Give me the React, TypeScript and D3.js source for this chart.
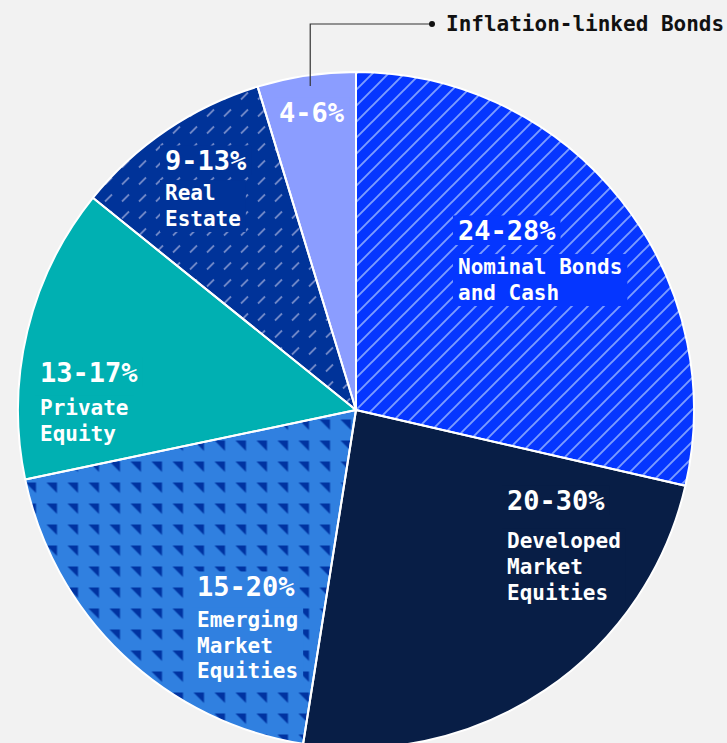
import React from "react";
import * as d3 from "d3";

// ---- data ----
const categories = [
  "Nominal Bonds and Cash",
  "Developed Market Equities",
  "Emerging Market Equities",
  "Private Equity",
  "Real Estate",
  "Inflation-linked Bonds",
];
const shares = [28.6, 23.9, 19.2, 14.1, 9.5, 4.7];
const rangeLabels = ["24-28%", "20-30%", "15-20%", "13-17%", "9-13%", "4-6%"];
const nameLines = [
  ["Nominal Bonds", "and Cash"],
  ["Developed", "Market", "Equities"],
  ["Emerging", "Market", "Equities"],
  ["Private", "Equity"],
  ["Real", "Estate"],
  [],
];
const legendLabel = "Inflation-linked Bonds";

// ---- layout / style ----
const W = 727;
const H = 743;
const CX = 356;
const CY = 410;
const R = 338;
const BG = "#f2f2f2";
const FONT = "'DejaVu Sans Mono', 'Liberation Mono', monospace";
const PCT_SIZE = 27;
const NAME_SIZE = 21;
const CHAR_W = 0.602;

const baseColors = ["#0536ff", "#081e46", "#3080e0", "#00b0b2", "#003399", "#8b9dff"];
const overlays = ["url(#hatch)", null, "url(#tri)", null, "url(#dash)", null];

// label anchor offsets from pie centre (percent baseline start), gap to first name line, line height
const labelLayout = [
  { dx: 102, dy: -170, gap: 34, lh: 26 },
  { dx: 151, dy: 100, gap: 38, lh: 26 },
  { dx: -159, dy: 186, gap: 31, lh: 25.5 },
  { dx: -316, dy: -28.5, gap: 33.5, lh: 26 },
  { dx: -191, dy: -240, gap: 30, lh: 26 },
  { dx: -77, dy: -288, gap: 0, lh: 0 },
];

export default function App() {
  const data = categories.map((c, i) => ({ name: c, value: shares[i], i }));
  const pie = d3
    .pie<any>()
    .sort(null)
    .value((d: any) => d.value)
    .startAngle(0)
    .endAngle(2 * Math.PI);
  const arcs = pie(data);
  const arc = d3.arc<any>().innerRadius(0).outerRadius(R);

  // legend leader: from inside the inflation-linked slice, up and right to the label
  const infl = arcs[5];
  const leaderAngle = infl.startAngle + (infl.endAngle - infl.startAngle) * 0.52;
  const leaderX = CX + Math.sin(leaderAngle) * (R - 14);
  const leaderBottom = CY - R + 14;
  const legendY = 24;
  const dotX = 432;

  const T = 16; // hatch tile
  return (
    <svg
      width={W}
      height={H}
      style={{ position: "absolute", left: 0, top: 0, display: "block" }}
    >
      <defs>
        <pattern id="hatch" patternUnits="userSpaceOnUse" width={T} height={T}>
          <path
            d={`M-2,${T + 2} L${T + 2},-2 M-2,2 L2,-2 M${T - 2},${T + 2} L${T + 2},${T - 2}`}
            stroke="#7c9cff"
            strokeWidth={1.9}
            fill="none"
          />
        </pattern>
        <pattern id="dash" patternUnits="userSpaceOnUse" width={17} height={17}>
          <line x1={4} y1={12.5} x2={11} y2={5.5} stroke="#6d86c6" strokeWidth={1.8} />
        </pattern>
        <pattern id="tri" patternUnits="userSpaceOnUse" x={5.5} y={9.5} width={21} height={21}>
          <polygon points="0,0 10.5,0 10.5,10.5" fill="#0033a1" />
        </pattern>
      </defs>
      <rect width={W} height={H} fill={BG} />

      <g transform={`translate(${CX},${CY})`}>
        {arcs.map((a, i) => (
          <g key={i}>
            <path d={arc(a) as string} fill={baseColors[i]} />
            {overlays[i] && <path d={arc(a) as string} fill={overlays[i] as string} />}
          </g>
        ))}
        {arcs.map((a, i) => (
          <path key={"s" + i} d={arc(a) as string} fill="none" stroke="#ffffff" strokeWidth={2} strokeLinejoin="round" />
        ))}
      </g>

      {/* labels */}
      {arcs.map((a, i) => {
        const L = labelLayout[i];
        const x = CX + L.dx;
        const y = CY + L.dy;
        const pctW = rangeLabels[i].length * CHAR_W * PCT_SIZE;
        const lines = nameLines[i];
        const maxLen = lines.reduce((m, s) => Math.max(m, s.length), 0);
        const nameW = maxLen * CHAR_W * NAME_SIZE;
        const firstY = y + L.gap;
        const lastY = firstY + (lines.length - 1) * L.lh;
        return (
          <g key={i}>
            <rect x={x - 5} y={y - PCT_SIZE * 0.76 - 4} width={pctW + 10} height={PCT_SIZE * 0.76 + 9} fill={baseColors[i]} />
            {lines.length > 0 && (
              <rect
                x={x - 5}
                y={firstY - NAME_SIZE * 0.76 - 4}
                width={nameW + 10}
                height={lastY - firstY + NAME_SIZE * 0.76 + 10}
                fill={baseColors[i]}
              />
            )}
            <text x={x} y={y} fill="#ffffff" fontFamily={FONT} fontWeight="bold" fontSize={PCT_SIZE}>
              {rangeLabels[i]}
            </text>
            {lines.map((s, j) => (
              <text
                key={j}
                x={x}
                y={firstY + j * L.lh}
                fill="#ffffff"
                fontFamily={FONT}
                fontWeight="bold"
                fontSize={NAME_SIZE}
              >
                {s}
              </text>
            ))}
          </g>
        );
      })}

      {/* legend callout */}
      <polyline
        points={`${leaderX},${leaderBottom} ${leaderX},${legendY} ${dotX},${legendY}`}
        fill="none"
        stroke="#333333"
        strokeWidth={1.2}
      />
      <circle cx={dotX} cy={legendY} r={3} fill="#111111" />
      <text x={446} y={legendY + 7} fill="#111111" fontFamily={FONT} fontWeight="bold" fontSize={21}>
        {legendLabel}
      </text>
    </svg>
  );
}
